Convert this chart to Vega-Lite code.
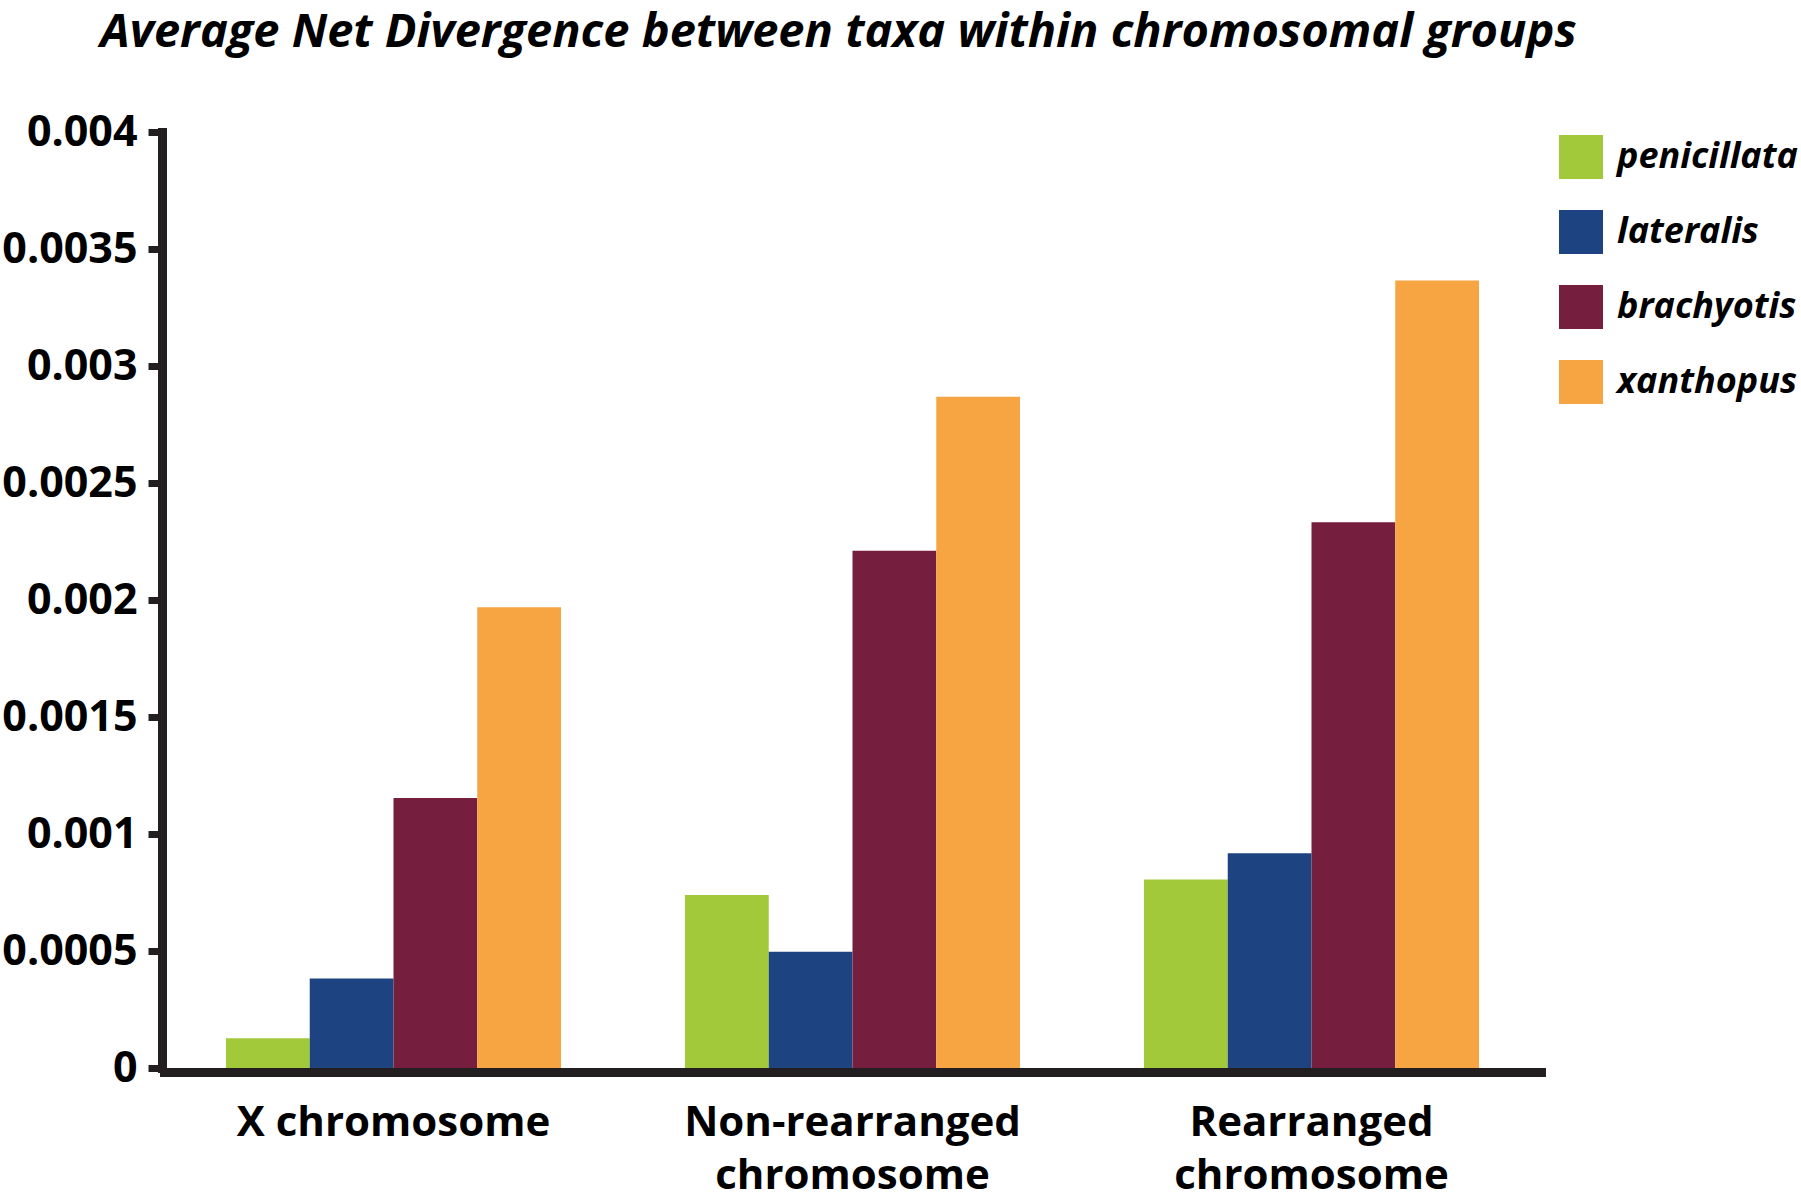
{
  "$schema": "https://vega.github.io/schema/vega-lite/v6.json",
  "autosize": {"type": "none"},
  "width": 1377,
  "height": 936,
  "padding": {"left": 164, "top": 132, "right": 260, "bottom": 127},
  "background": "white",
  "title": {
    "text": "Average Net Divergence between taxa within chromosomal groups",
    "font": "Open Sans",
    "fontSize": 47,
    "fontWeight": "bold",
    "fontStyle": "italic",
    "color": "black",
    "anchor": "middle",
    "frame": "group",
    "dx": -14,
    "offset": 54,
    "limit": 1800
  },
  "data": {
    "values": [
      {"group": "X chromosome", "taxon": "penicillata", "value": 0.000127},
      {"group": "X chromosome", "taxon": "lateralis", "value": 0.000383},
      {"group": "X chromosome", "taxon": "brachyotis", "value": 0.001154},
      {"group": "X chromosome", "taxon": "xanthopus", "value": 0.001969},
      {"group": "Non-rearranged chromosome", "taxon": "penicillata", "value": 0.000739},
      {"group": "Non-rearranged chromosome", "taxon": "lateralis", "value": 0.000497},
      {"group": "Non-rearranged chromosome", "taxon": "brachyotis", "value": 0.002211},
      {"group": "Non-rearranged chromosome", "taxon": "xanthopus", "value": 0.002869},
      {"group": "Rearranged chromosome", "taxon": "penicillata", "value": 0.000806},
      {"group": "Rearranged chromosome", "taxon": "lateralis", "value": 0.000918},
      {"group": "Rearranged chromosome", "taxon": "brachyotis", "value": 0.002332},
      {"group": "Rearranged chromosome", "taxon": "xanthopus", "value": 0.003365}
    ]
  },
  "mark": {"type": "bar", "strokeWidth": 0},
  "encoding": {
    "x": {
      "field": "group",
      "type": "nominal",
      "sort": ["X chromosome", "Non-rearranged chromosome", "Rearranged chromosome"],
      "scale": {"paddingInner": 0.27, "paddingOuter": 0.135},
      "axis": {
        "title": null,
        "labelAngle": 0,
        "labelFont": "Open Sans",
        "labelFontSize": 42,
        "labelFontWeight": "bold",
        "labelColor": "black",
        "labelPadding": 30,
        "labelLineHeight": 53,
        "labelLimit": 1000,
        "labelExpr": "datum.value == 'Non-rearranged chromosome' ? ['Non-rearranged', 'chromosome'] : datum.value == 'Rearranged chromosome' ? ['Rearranged', 'chromosome'] : datum.label",
        "ticks": false,
        "tickSize": 0,
        "offset": 4,
        "domainColor": "#231F20",
        "domainWidth": 9,
        "domainCap": "square",
        "grid": false
      }
    },
    "xOffset": {
      "field": "taxon",
      "type": "nominal",
      "sort": ["penicillata", "lateralis", "brachyotis", "xanthopus"],
      "scale": {"paddingInner": 0, "paddingOuter": 0}
    },
    "y": {
      "field": "value",
      "type": "quantitative",
      "scale": {"domain": [0, 0.004], "nice": false, "zero": true},
      "axis": {
        "title": null,
        "values": [0, 0.0005, 0.001, 0.0015, 0.002, 0.0025, 0.003, 0.0035, 0.004],
        "format": "~g",
        "labelFont": "Open Sans",
        "labelFontSize": 43,
        "labelFontWeight": "bold",
        "labelColor": "black",
        "labelPadding": 11,
        "labelLimit": 400,
        "tickSize": 14,
        "tickWidth": 7,
        "tickColor": "#231F20",
        "offset": 2,
        "domainColor": "#231F20",
        "domainWidth": 9,
        "domainCap": "square",
        "grid": false
      }
    },
    "color": {
      "field": "taxon",
      "type": "nominal",
      "sort": ["penicillata", "lateralis", "brachyotis", "xanthopus"],
      "scale": {
        "domain": ["penicillata", "lateralis", "brachyotis", "xanthopus"],
        "range": ["#A2C93A", "#1D4481", "#761E3E", "#F7A443"]
      },
      "legend": {
        "title": null,
        "orient": "none",
        "legendX": 1395,
        "legendY": 3,
        "padding": 0,
        "symbolType": "square",
        "symbolSize": 1936,
        "symbolStrokeWidth": 0,
        "symbolOpacity": 1,
        "rowPadding": 31,
        "labelOffset": 14,
        "labelFont": "Open Sans",
        "labelFontSize": 36,
        "labelFontWeight": "bold",
        "labelFontStyle": "italic",
        "labelColor": "black",
        "labelLimit": 400
      }
    }
  },
  "config": {
    "view": {"stroke": null}
  }
}
